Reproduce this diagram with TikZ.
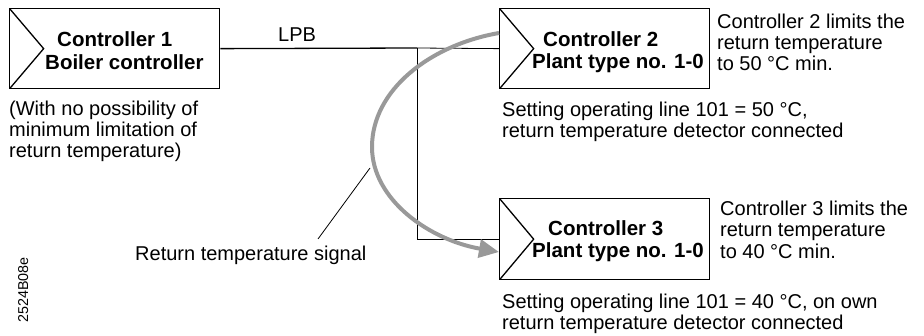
\documentclass[tikz,border=0pt]{standalone}
\usepackage{fontspec}
\setmainfont{Liberation Sans}
\usetikzlibrary{arrows.meta}
\begin{document}
\begin{tikzpicture}[x=1pt,y=-1pt,
  ctrl/.style={draw,line width=1.3pt,minimum width=210pt,minimum height=80pt,anchor=north west,inner sep=0pt,
    path picture={\draw[line width=1.3pt] (path picture bounding box.north west) -- ([xshift=34pt]path picture bounding box.west) -- (path picture bounding box.south west);}},
  lbl/.style={font=\fontsize{20}{21.2}\selectfont,inner sep=0pt,anchor=base west},
  para/.style={font=\fontsize{20}{21.2}\selectfont,align=left,inner sep=0pt,anchor=north west},
  btxt/.style={font=\fontsize{20.5}{25}\bfseries\selectfont,inner sep=0pt,anchor=base west},
  bus/.style={line width=0.8pt},
  signal/.style={line width=4pt,color=black!40,-{Triangle[length=20pt,width=18pt]}},
]
\useasboundingbox (0,0) rectangle (924,336);

% boxes
\node[ctrl] (c1) at (9,8) {};
\node[ctrl] (c2) at (499,8) {};
\node[ctrl,minimum height=81pt] (c3) at (499,198) {};

% box texts
\node[btxt] (c1a) at (57,47) {Controller 1};
\node[btxt] (c1b) at (45,70) {Boiler controller};
\node[btxt] (c2a) at (543,47) {Controller 2};
\node[btxt] (c2b) at (532,69) {Plant type no. 1-0};
\node[btxt] (c3a) at (548,236) {Controller 3};
\node[btxt] (c3b) at (532,258) {Plant type no. 1-0};

% bus
\coordinate (j) at (417,48);
\coordinate (k) at (417,239);
\draw[line width=1.3pt] (c1.east) -- (j);
\draw[bus] (j) -- (c2.west);
\draw[bus] (j) -- (k) -- (k -| c3.west);
\node[lbl] (lpb) at (278,42) {LPB};

% return temperature signal
\coordinate (s0) at (499,33);
\coordinate (sm) at (372,147);
\coordinate (s1) at (499,252);
\draw[signal] (s0) .. controls (430,45) and (372,90) .. (sm)
  .. controls (372,200) and (430,240) .. (s1);

\node[lbl] (sig) at (135,261) {Return temperature signal};
\coordinate (l0) at (370,168);
\coordinate (l1) at (318,239);
\draw[line width=0.8pt] (l0) -- (l1);

% side texts
\node[para] (t1) at (9,100.5) {(With no possibility of\\minimum limitation of\\return temperature)};
\node[para] (t2) at (717,13.5) {Controller 2 limits the\\return temperature\\to 50 °C min.};
\node[para] (t3) at (502,101.5) {Setting operating line 101 = 50 °C,\\return temperature detector connected};
\node[para] (t4) at (720,201) {Controller 3 limits the\\return temperature\\to 40 °C min.};
\node[para] (t5) at (502,293.5) {Setting operating line 101 = 40 °C, on own\\return temperature detector connected};

\node[font=\fontsize{14.3}{16}\selectfont,rotate=90,inner sep=0pt,anchor=base] (code) at (28,290) {2524B08e};
\end{tikzpicture}
\end{document}
